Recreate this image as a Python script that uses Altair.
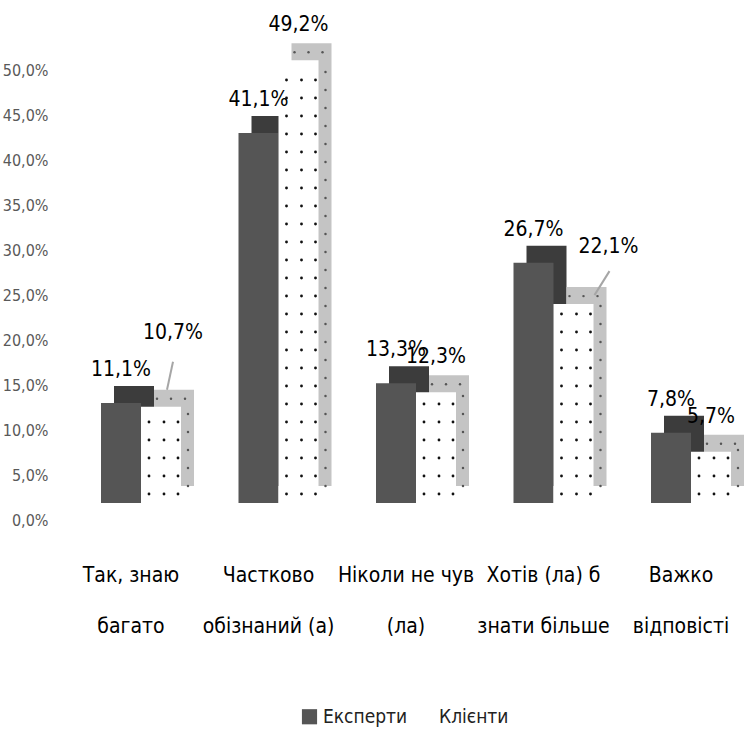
import altair as alt
import pandas as pd

categories = ["Так, знаю багато", "Частково обізнаний (а)", "Ніколи не чув (ла)",
              "Хотів (ла) б знати більше", "Важко відповісті"]
category_lines = [["Так, знаю", "багато"], ["Частково", "обізнаний (а)"],
                  ["Ніколи не чув", "(ла)"], ["Хотів (ла) б", "знати більше"],
                  ["Важко", "відповісті"]]
series = ["Експерти", "Клієнти"]
experts = [0.111, 0.411, 0.133, 0.267, 0.078]
clients = [0.107, 0.492, 0.123, 0.221, 0.057]
y_ticks = [0.0, 0.05, 0.10, 0.15, 0.20, 0.25, 0.30, 0.35, 0.40, 0.45, 0.50]

# labels drawn away from their bar with a leader line (pixel offsets: label dx, dy, line start dx, dy, end dx, dy)
callouts = {("Клієнти", "Так, знаю багато"): (32, -91, 26, -34, 32, -62),
            ("Клієнти", "Хотів (ла) б знати більше"): (55, -74, 41, -26, 56, -50)}

FONT = "DejaVu Sans Condensed, DejaVu Sans, sans-serif"

rows = []
for c, e, k in zip(categories, experts, clients):
    rows.append({"category": c, "series": series[0], "value": e,
                 "label": f"{e*100:.1f}%".replace(".", ",")})
    rows.append({"category": c, "series": series[1], "value": k,
                 "label": f"{k*100:.1f}%".replace(".", ",")})
df = pd.DataFrame(rows)
df_e = df[df["series"] == series[0]]
df_c = df[df["series"] == series[1]]
is_callout = [(s, c) in callouts for s, c in zip(df_c["series"], df_c["category"])]
df_c_plain = df_c[[not v for v in is_callout]]

# decorative dot pattern rows for the dotted series (every 2 %)
dots = []
for c, k in zip(categories, clients):
    j = 0
    while (2 * j + 1) / 100 < k - 0.004:
        dots.append({"category": c, "pos": (2 * j + 1) / 100})
        j += 1
df_dots = pd.DataFrame(dots)

label_expr = ""
for c, lines in zip(categories, category_lines):
    label_expr += f"datum.label == '{c}' ? {lines!r} : "
label_expr += "datum.label"

x_scale = alt.Scale(domain=categories, paddingInner=0.4, paddingOuter=0.1)
x_enc = alt.X("category:N", scale=x_scale, title=None,
              axis=alt.Axis(labelAngle=0, domain=False, ticks=False, labelFontSize=21,
                            labelFont=FONT, labelColor="#000000", labelPadding=44,
                            labelLineHeight=51, labelOffset=-10, labelExpr=label_expr,
                            labelLimit=200))
x_plain = alt.X("category:N", scale=x_scale)
y_scale = alt.Scale(domain=[0, 0.5], nice=False)
y_enc = alt.Y("value:Q", scale=y_scale, title=None,
              axis=alt.Axis(values=y_ticks, grid=False, domain=False, ticks=False,
                            labelFontSize=16, labelFont=FONT, labelColor="#595959",
                            labelPadding=38,
                            labelExpr="replace(format(datum.value, '.1%'), '.', ',')"))

fill = alt.Color("series:N", scale=alt.Scale(domain=series, range=["#555555", "#ffffff"]),
                 title=None,
                 legend=alt.Legend(orient="none", legendX=214, legendY=637, direction="horizontal",
                                   symbolType="square", symbolSize=230, labelFontSize=19,
                                   labelFont=FONT, labelColor="#222222", columnPadding=8,
                                   symbolStrokeWidth=0))

BW = 40
HALF = 20
DX, DY = 13, 17
depth_e = alt.Chart(df_e).mark_bar(width=BW, xOffset=-HALF + DX, yOffset=-2 * DY, y2Offset=-2 * DY,
                                   color="#3c3c3c").encode(x=x_enc, y=y_enc)
depth_c = alt.Chart(df_c).mark_bar(width=BW, xOffset=HALF + DX, yOffset=-2 * DY, y2Offset=-2 * DY,
                                   color="#c4c4c4").encode(x=x_enc, y=y_enc)
front_e = alt.Chart(df_e).mark_bar(width=BW, xOffset=-HALF, yOffset=-DY, y2Offset=-DY).encode(
    x=x_enc, y=y_enc, color=fill)
front_c = alt.Chart(df_c).mark_bar(width=BW, xOffset=HALF, yOffset=-DY, y2Offset=-DY).encode(
    x=x_enc, y=y_enc, color=fill)

dot_layers = []
for dx in (8, 23, 37):
    dot_layers.append(
        alt.Chart(df_dots).mark_circle(size=8, color="#111111", opacity=1, xOffset=dx, yOffset=-DY).encode(
            x=x_plain, y=alt.Y("pos:Q", scale=y_scale))
    )
# texture dots on the side and top faces of the dotted bars
dot_layers.append(
    alt.Chart(df_dots).mark_circle(size=6, color="#555555", opacity=1, xOffset=47, yOffset=-DY - 8).encode(
        x=x_plain, y=alt.Y("pos:Q", scale=y_scale)))
for dx in (16, 30, 44):
    dot_layers.append(
        alt.Chart(df_c).mark_circle(size=6, color="#555555", opacity=1, xOffset=dx, yOffset=-DY - 8).encode(
            x=x_plain, y=alt.Y("value:Q", scale=y_scale)))

text_e = alt.Chart(df_e).mark_text(xOffset=-HALF, yOffset=-50, fontSize=21, font=FONT,
                                   color="#000000").encode(
    x=x_plain, y=alt.Y("value:Q", scale=y_scale), text="label:N")
text_c = alt.Chart(df_c_plain).mark_text(xOffset=HALF, yOffset=-52, fontSize=21, font=FONT,
                                         color="#000000").encode(
    x=x_plain, y=alt.Y("value:Q", scale=y_scale), text="label:N")

callout_layers = []
for (s, c), (lx, ly, sx, sy, ex, ey) in callouts.items():
    d = df[(df["series"] == s) & (df["category"] == c)]
    callout_layers.append(
        alt.Chart(d).mark_rule(color="#a6a6a6", strokeWidth=2, xOffset=sx, x2Offset=ex,
                               yOffset=sy, y2Offset=ey).encode(
            x=alt.X("category:N", scale=x_scale, bandPosition=0.5),
            x2=alt.X2("category:N", bandPosition=0.5),
            y=alt.Y("value:Q", scale=y_scale), y2="value:Q"))
    callout_layers.append(
        alt.Chart(d).mark_text(xOffset=lx, yOffset=ly, fontSize=21, font=FONT, color="#000000").encode(
            x=x_plain, y=alt.Y("value:Q", scale=y_scale), text="label:N"))

chart = alt.layer(depth_e, depth_c, front_e, front_c, *dot_layers, text_e, text_c,
                  *callout_layers).properties(
    width=660, height=450,
    autosize=alt.AutoSizeParams(type="none"),
    padding={"left": 86, "top": 70, "right": 0, "bottom": 213},
    background="#ffffff",
).configure_view(stroke=None)

chart.save("out.html", embed_options={"renderer": "svg", "actions": False})
